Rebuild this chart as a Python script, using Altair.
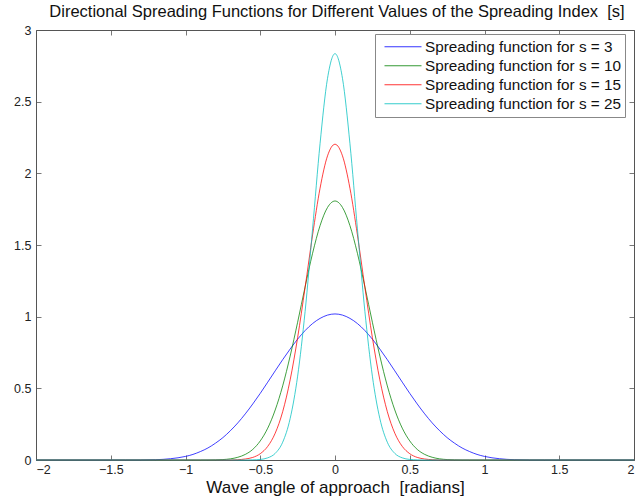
import altair as alt
import pandas as pd

x_vals = [-2.0, -1.5, -1.4, -1.3, -1.2, -1.1, -1.0,
          -0.95, -0.9, -0.85, -0.8, -0.75, -0.7, -0.65, -0.6, -0.55, -0.5,
          -0.45, -0.4, -0.35, -0.3, -0.25, -0.2, -0.15, -0.1, -0.05,
          0.0,
          0.05, 0.1, 0.15, 0.2, 0.25, 0.3, 0.35, 0.4, 0.45, 0.5,
          0.55, 0.6, 0.65, 0.7, 0.75, 0.8, 0.85, 0.9, 0.95,
          1.0, 1.1, 1.2, 1.3, 1.4, 1.5, 2.0]

s3 = [0, 0, 0, 0.000, 0.002, 0.009, 0.025,
      0.039, 0.059, 0.084, 0.117, 0.156, 0.204, 0.259, 0.322, 0.391, 0.465,
      0.543, 0.622, 0.700, 0.774, 0.843, 0.903, 0.952, 0.988, 1.011,
      1.019,
      1.011, 0.988, 0.952, 0.903, 0.843, 0.774, 0.700, 0.622, 0.543, 0.465,
      0.391, 0.322, 0.259, 0.204, 0.156, 0.117, 0.084, 0.059, 0.039,
      0.025, 0.009, 0.002, 0.000, 0, 0, 0]

s10 = [0, 0, 0, 0, 0, 0, 0,
       0, 0, 0.000, 0.001, 0.003, 0.008, 0.019, 0.039, 0.074, 0.133,
       0.222, 0.349, 0.517, 0.725, 0.961, 1.208, 1.442, 1.635, 1.762,
       1.807,
       1.762, 1.635, 1.442, 1.208, 0.961, 0.725, 0.517, 0.349, 0.222, 0.133,
       0.074, 0.039, 0.019, 0.008, 0.003, 0.001, 0.000, 0, 0,
       0, 0, 0, 0, 0, 0, 0]

s15 = [0, 0, 0, 0, 0, 0, 0,
       0, 0, 0, 0, 0, 0.000, 0.002, 0.007, 0.018, 0.044,
       0.095, 0.187, 0.337, 0.559, 0.854, 1.204, 1.570, 1.896, 2.122,
       2.203,
       2.122, 1.896, 1.570, 1.204, 0.854, 0.559, 0.337, 0.187, 0.095, 0.044,
       0.018, 0.007, 0.002, 0.000, 0, 0, 0, 0, 0,
       0, 0, 0, 0, 0, 0, 0]

s25 = [0, 0, 0, 0, 0, 0, 0,
       0, 0, 0, 0, 0, 0, 0, 0.000, 0.001, 0.004,
       0.015, 0.046, 0.124, 0.289, 0.585, 1.036, 1.612, 2.207, 2.663,
       2.835,
       2.663, 2.207, 1.612, 1.036, 0.585, 0.289, 0.124, 0.046, 0.015, 0.004,
       0.001, 0.000, 0, 0, 0, 0, 0, 0, 0,
       0, 0, 0, 0, 0, 0, 0]

labels = ["Spreading function for s = 3", "Spreading function for s = 10",
          "Spreading function for s = 15", "Spreading function for s = 25"]
colors = ["#0000ff", "#008000", "#ff0000", "#00bfbf"]

x_ticks = [-2, -1.5, -1, -0.5, 0, 0.5, 1, 1.5, 2]
y_ticks = [0, 0.5, 1, 1.5, 2, 2.5, 3]

title_text = "Directional Spreading Functions for Different Values of the Spreading Index \u00a0[s]"
xlabel_text = "Wave angle of approach \u00a0[radians]"

rows = []
for lab, ys in zip(labels, [s3, s10, s15, s25]):
    for xv, yv in zip(x_vals, ys):
        rows.append({"x": xv, "y": yv, "series": lab})
df = pd.DataFrame(rows)

FONT = "Liberation Sans"
AX = "#555555"

xscale = alt.Scale(domain=[-2, 2], nice=False, zero=False)
yscale = alt.Scale(domain=[0, 3], nice=False, zero=False)

base = alt.Chart(df)

lines = base.mark_line(strokeWidth=0.75, interpolate="monotone").encode(
    x=alt.X("x:Q", scale=xscale,
            axis=alt.Axis(orient="bottom", values=x_ticks, format=".1~f",
                          offset=-5, tickSize=5, domain=False, grid=False,
                          tickColor=AX, tickWidth=0.8, labelPadding=3,
                          labelFont=FONT, labelFontSize=12.5, labelColor="#222",
                          title=xlabel_text,
                          titleFont=FONT, titleFontSize=17, titleFontWeight="normal",
                          titleColor="#111", titlePadding=4)),
    y=alt.Y("y:Q", scale=yscale,
            axis=alt.Axis(orient="left", values=y_ticks, format=".1~f",
                          offset=-5, tickSize=5, domain=False, grid=False,
                          tickColor=AX, tickWidth=0.8, labelPadding=5,
                          labelFont=FONT, labelFontSize=12.5, labelColor="#222",
                          title=None)),
    color=alt.Color("series:N", scale=alt.Scale(domain=labels, range=colors),
                    legend=alt.Legend(orient="none", legendX=339, legendY=4,
                                      title=None, symbolType="stroke",
                                      symbolSize=1369, symbolStrokeWidth=0.8,
                                      symbolOffset=5.5, clipHeight=18.5,
                                      labelFont=FONT, labelFontSize=15.3,
                                      labelColor="#111", labelOffset=3,
                                      strokeColor="#888888", fillColor="white",
                                      padding=3.5, rowPadding=0, cornerRadius=0,
                                      labelLimit=400)),
)

ghost = base.mark_line(opacity=0).encode(
    x=alt.X("x:Q", scale=xscale,
            axis=alt.Axis(orient="top", values=x_ticks, labels=False,
                          offset=-5, tickSize=5, domain=False, grid=False,
                          tickColor=AX, tickWidth=0.8, title=None)),
    y=alt.Y("y:Q", scale=yscale,
            axis=alt.Axis(orient="right", values=y_ticks, labels=False,
                          offset=-5, tickSize=5, domain=False, grid=False,
                          tickColor=AX, tickWidth=0.8, title=None)),
    detail="series:N",
)

chart = alt.layer(lines, ghost).resolve_axis(
    x="independent", y="independent"
).properties(
    width=598, height=430,
    padding={"left": 36, "top": 30, "right": 3, "bottom": 42},
    autosize=alt.AutoSizeParams(type="none"),
    title=alt.TitleParams(
        title_text,
        font=FONT, fontSize=16.5, fontWeight="normal", color="#111",
        anchor="middle", frame="group", offset=4, dx=2),
).configure_view(stroke=AX, strokeWidth=1)

chart.save("out.html", embed_options={"renderer": "svg", "actions": False})
